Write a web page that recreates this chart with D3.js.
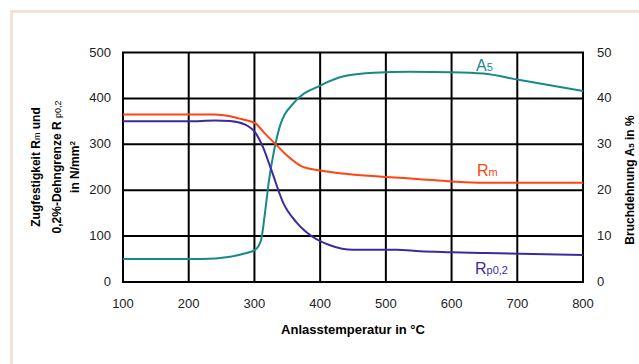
<!DOCTYPE html>
<html>
  <head>
    <meta charset="utf-8" />
    <title>Anlassschaubild</title>
    <style>
      body { margin: 0; background: #fff; }
      svg { display: block; font-family: "Liberation Sans", Arial, sans-serif; }
    </style>
  </head>
  <body>
    <svg width="639" height="364"></svg>

    <script type="text/javascript" src="https://d3js.org/d3.v7.min.js"></script>
    <script type="text/javascript">
      // values
      const xTicks = [100, 200, 300, 400, 500, 600, 700, 800];
      const yTicksLeft = [0, 100, 200, 300, 400, 500];
      const yTicksRight = [0, 10, 20, 30, 40, 50];

      const rmTemp = [100, 200, 240, 263, 280, 301, 315, 331, 350, 372, 400, 445, 500, 552, 600, 648, 700, 800];
      const rmVal = [365, 365, 365, 361, 355, 346, 325, 302, 275, 252, 243, 235, 229, 224, 219, 216, 216, 216];

      const rpTemp = [100, 200, 240, 263, 286, 301, 313, 326, 344, 364, 389, 415, 450, 516, 552, 600, 653, 800];
      const rpVal = [350, 350, 352, 351, 343, 326, 294, 243, 172, 130, 98, 80, 70, 70, 67, 65, 63, 59];

      const a5Temp = [100, 220, 263, 285, 301, 310, 316, 322, 330, 340, 360, 400, 441, 482, 537, 600, 648, 704, 800];
      const a5Val = [5, 5, 5.5, 6.2, 7.0, 9.1, 15, 22, 28.7, 34.5, 39, 42.8, 45, 45.6, 45.8, 45.7, 45.4, 44, 41.6];

      const svg = d3.select('svg');

      // beige frame
      svg.append('path')
        .attr('d', 'M11.5,364 V11.5 H639')
        .attr('fill', 'none')
        .attr('stroke', '#efe3da')
        .attr('stroke-width', 3);

      const x = d3.scaleLinear().domain([100, 800]).range([123, 583]);
      const yL = d3.scaleLinear().domain([0, 500]).range([282, 52.5]);
      const yR = d3.scaleLinear().domain([0, 50]).range([282, 52.5]);

      const g = svg.append('g');

      // grid
      g.selectAll('.vgrid').data(xTicks).enter().append('line')
        .attr('x1', d => x(d)).attr('x2', d => x(d))
        .attr('y1', yL(0)).attr('y2', yL(500))
        .attr('stroke', '#000').attr('stroke-width', 2);
      g.selectAll('.hgrid').data(yTicksLeft).enter().append('line')
        .attr('x1', x(100) - 1).attr('x2', x(800) + 1)
        .attr('y1', d => yL(d)).attr('y2', d => yL(d))
        .attr('stroke', '#000').attr('stroke-width', 2);

      // tick labels
      const tickStyle = sel => sel.attr('font-size', 13).attr('fill', '#222');
      g.selectAll('.xl').data(xTicks).enter().append('text')
        .attr('x', d => x(d)).attr('y', 308)
        .attr('text-anchor', 'middle')
        .text(d => d).call(tickStyle);
      g.selectAll('.yl').data(yTicksLeft).enter().append('text')
        .attr('x', 111).attr('y', d => yL(d) + 4)
        .attr('text-anchor', 'end')
        .text(d => d).call(tickStyle);
      g.selectAll('.yr').data(yTicksRight).enter().append('text')
        .attr('x', 597).attr('y', d => yR(d) + 4)
        .attr('text-anchor', 'start')
        .text(d => d).call(tickStyle);

      // curves
      const lineL = d3.line().x(d => x(d[0])).y(d => yL(d[1])).curve(d3.curveMonotoneX);
      const lineR = d3.line().x(d => x(d[0])).y(d => yR(d[1])).curve(d3.curveMonotoneX);

      g.append('path').datum(d3.zip(a5Temp, a5Val))
        .attr('d', lineR).attr('fill', 'none')
        .attr('stroke', '#16898a').attr('stroke-width', 2);
      g.append('path').datum(d3.zip(rmTemp, rmVal))
        .attr('d', lineL).attr('fill', 'none')
        .attr('stroke', '#ff4411').attr('stroke-width', 2);
      g.append('path').datum(d3.zip(rpTemp, rpVal))
        .attr('d', lineL).attr('fill', 'none')
        .attr('stroke', '#3d2a9e').attr('stroke-width', 2);

      // series labels
      function seriesLabel(px, py, main, sub, color) {
        const t = svg.append('text').attr('x', px).attr('y', py)
          .attr('fill', color).attr('font-size', 16);
        t.append('tspan').text(main);
        t.append('tspan').attr('font-size', 11).text(sub);
      }
      seriesLabel(476, 71, 'A', '5', '#16898a');
      seriesLabel(477, 176, 'R', 'm', '#ff4411');
      seriesLabel(475, 274, 'R', 'p0,2', '#3d2a9e');

      // axis titles
      svg.append('text')
        .attr('x', 353).attr('y', 334)
        .attr('text-anchor', 'middle')
        .attr('font-size', 13).attr('font-weight', 'bold')
        .text('Anlasstemperatur in °C');

      const leftTitle = svg.append('text')
        .attr('transform', 'translate(0,167) rotate(-90)')
        .attr('text-anchor', 'middle')
        .attr('font-size', 12).attr('font-weight', 'bold');
      const l1 = leftTitle.append('tspan').attr('x', 0).attr('y', 40);
      l1.append('tspan').text('Zugfestigkeit R');
      l1.append('tspan').attr('font-size', 9).attr('font-weight', 'normal').text('m');
      l1.append('tspan').text(' und');
      const l2 = leftTitle.append('tspan').attr('x', 0).attr('y', 61);
      l2.append('tspan').text('0,2%-Dehngrenze R ');
      l2.append('tspan').attr('font-size', 9).attr('font-weight', 'normal').text('p0,2');
      const l3 = leftTitle.append('tspan').attr('x', 0).attr('y', 79);
      l3.append('tspan').text('in N/mm');
      l3.append('tspan').attr('font-size', 8).attr('dy', -4).text('2');

      const rightTitle = svg.append('text')
        .attr('transform', 'translate(634,180) rotate(-90)')
        .attr('text-anchor', 'middle')
        .attr('font-size', 12).attr('font-weight', 'bold');
      rightTitle.append('tspan').text('Bruchdehnung A');
      rightTitle.append('tspan').attr('font-size', 8).text('5');
      rightTitle.append('tspan').text(' in %');
    </script>
  </body>
</html>
